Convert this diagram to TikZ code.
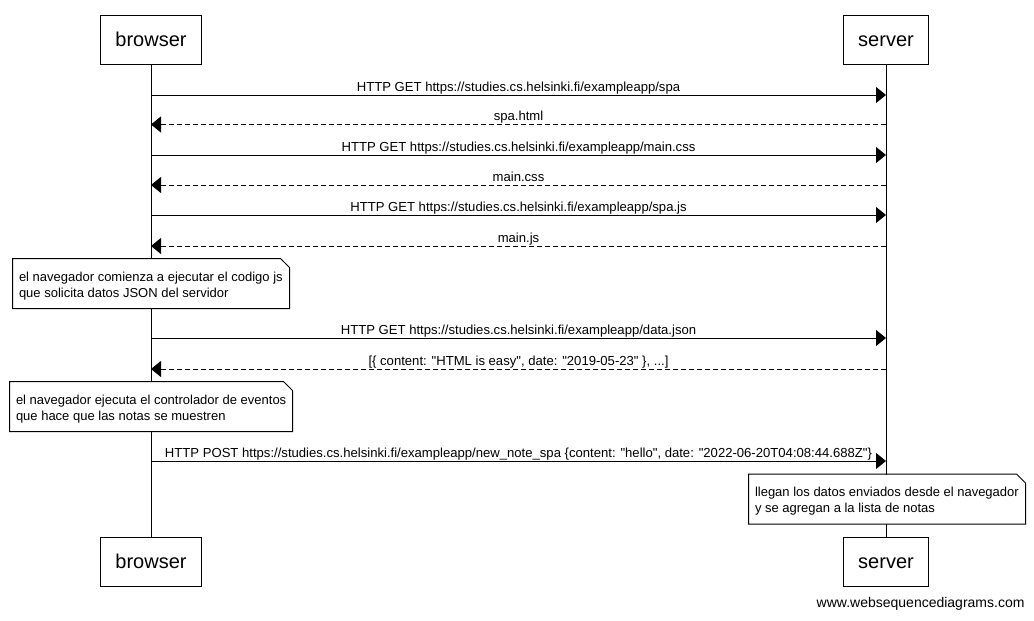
\documentclass[tikz,border=0pt]{standalone}
\usepackage{fontspec}
\setmainfont{Liberation Sans}[Ligatures={TeXOff,NoCommon}]
\usetikzlibrary{arrows.meta}

\begin{document}
\begin{tikzpicture}[
x=1pt, y=-1pt,
line width=1pt,
actor/.style={
    draw,
    fill=white,
    minimum height=49pt,
    inner xsep=15pt,
    text height=15pt,
    text depth=2pt,
    font=\fontsize{20}{24}\selectfont
},
msg/.style={-{Triangle[length=10pt,width=16pt]}},
reply/.style={msg, dash pattern=on 5pt off 3pt},
lbl/.style={
    anchor=base,
    yshift=3.6pt,
    inner sep=0pt,
    font=\fontsize{13.1}{15}\selectfont
},
note/.style={
    fill=white,
    minimum height=49pt,
    inner xsep=4pt,
    text width=#1,
    align=flush left,
    execute at begin node={\hspace*{2pt}\rule{0pt}{13.7pt}},
    font=\fontsize{13}{16}\selectfont
}
]
\useasboundingbox (0,0) rectangle (1034,621);

\node[actor] (browser) at (151,39.5) {browser};
\node[actor] (server) at (886,39.5) {server};
\node[actor] (browserend) at (151,561.5) {browser};
\node[actor] (serverend) at (886,561.5) {server};

\draw (browser) -- (browserend);
\draw (server) -- (serverend);

\foreach \i/\y in {1/95,2/124.5,3/155,4/185,5/215,6/246,7/338,8/369,9/461}{
    \coordinate (b\i) at (browser.south |- 0,\y);
    \coordinate (s\i) at (server.south |- 0,\y);
}

\draw[msg] (b1) -- node[lbl] {HTTP GET https://studies.cs.helsinki.fi/exampleapp/spa} (s1);
\draw[reply] (s2) -- node[lbl] {spa.html} (b2);
\draw[msg] (b3) -- node[lbl] {HTTP GET https://studies.cs.helsinki.fi/exampleapp/main.css} (s3);
\draw[reply] (s4) -- node[lbl] {main.css} (b4);
\draw[msg] (b5) -- node[lbl] {HTTP GET https://studies.cs.helsinki.fi/exampleapp/spa.js} (s5);
\draw[reply] (s6) -- node[lbl] {main.js} (b6);
\draw[msg] (b7) -- node[lbl] {HTTP GET https://studies.cs.helsinki.fi/exampleapp/data.json} (s7);
\draw[reply] (s8) -- node[lbl] {[\{ content: "HTML is easy", date: "2019-05-23" \}, ...]} (b8);
\draw[msg] (b9) -- node[lbl] {HTTP POST https://studies.cs.helsinki.fi/exampleapp/new\_note\_spa \{content: "hello", date: "2022-06-20T04:08:44.688Z"\}} (s9);

\node[note=268pt] (note1) at (151,283.5)
    {el navegador comienza a ejecutar el codigo js\\\hspace*{2pt}que solicita datos JSON del servidor};
\node[note=274pt] (note2) at (151,406.5)
    {el navegador ejecuta el controlador de eventos\\\hspace*{2pt}que hace que las notas se muestren};
\node[note=268pt] (note3) at (887,499)
    {llegan los datos enviados desde el navegador\\\hspace*{2pt}y se agregan a la lista de notas};

\foreach \n in {note1,note2,note3}
    \draw (\n.north west) -- ([xshift=-9pt]\n.north east) -- ([yshift=-9pt]\n.north east)
        -- (\n.south east) -- (\n.south west) -- cycle;

\node[anchor=base east, inner sep=0pt, font=\fontsize{14}{16}\selectfont] (credit) at (1025,607)
    {www.websequencediagrams.com};
\end{tikzpicture}
\end{document}
